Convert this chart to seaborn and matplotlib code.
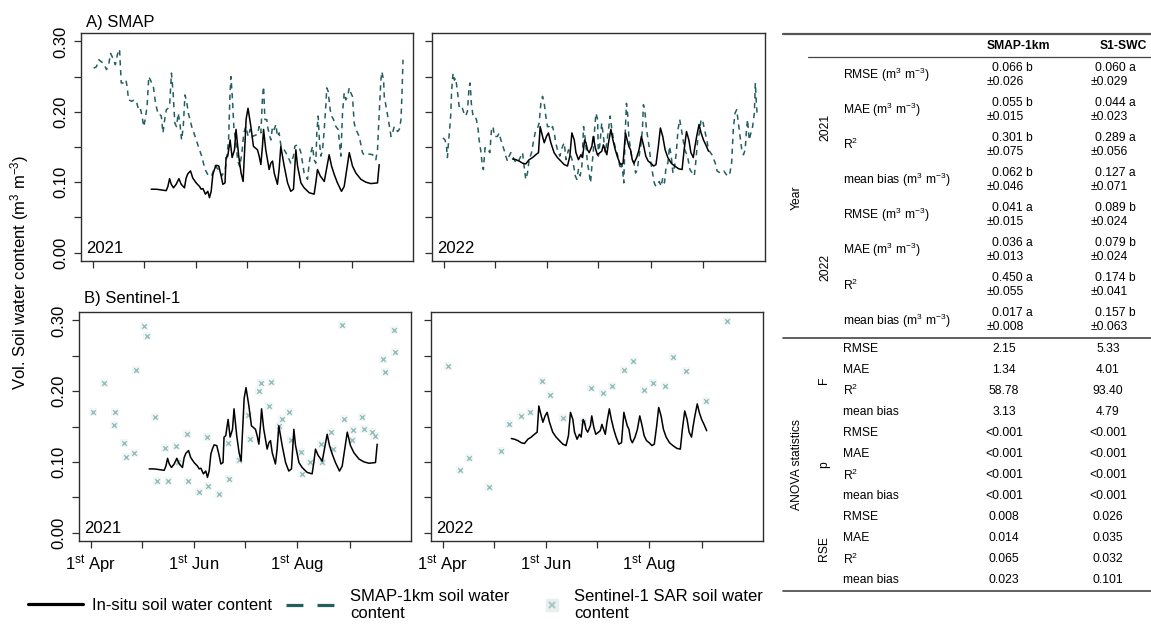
import matplotlib
matplotlib.use("Agg")
import matplotlib.pyplot as plt
import seaborn as sns
from matplotlib.lines import Line2D

# ---------------- data (day of year, vol. soil water content) ----------------
smap_2021_day = [91.4, 93.0, 94.5, 96.0, 97.3, 99.0, 100.4, 101.4, 102.8, 104.2, 105.4, 106.7,
                 107.7, 109.5, 110.5, 111.3, 112.0, 114.0, 115.4, 116.6, 118.0, 119.0, 120.0, 121.0,
                 122.0, 123.0, 124.0, 125.0, 126.7, 128.0, 129.6, 130.5, 131.4, 132.4, 133.4, 134.4,
                 135.4, 136.4, 137.4, 138.4, 139.4, 140.4, 141.4, 142.4, 143.4, 144.4, 145.4, 146.4,
                 147.4, 149.4, 151.4, 153.3, 155.3, 157.3, 159.3, 161.2, 163.2, 165.2, 167.2, 169.2,
                 170.2, 171.2, 172.0, 172.6, 173.4, 174.4, 175.4, 176.6, 177.8, 179.0, 180.2, 181.4,
                 182.8, 184.0, 185.4, 188.3, 189.3, 190.3, 191.3, 191.9, 192.7, 193.8, 194.6, 196.2,
                 197.2, 198.2, 199.2, 200.1, 201.1, 202.1, 203.1, 204.1, 205.1, 206.1, 207.1, 208.0,
                 209.6, 210.4, 211.6, 213.0, 214.0, 215.0, 215.9, 216.9, 217.9, 218.9, 219.9, 220.9,
                 221.8, 222.8, 223.4, 224.2, 225.0, 225.8, 226.8, 227.8, 228.7, 229.3, 230.1, 231.3,
                 232.1, 233.3, 234.7, 236.0, 237.6, 238.6, 239.6, 240.6, 241.6, 242.6, 243.5, 244.5,
                 245.5, 246.5, 247.5, 248.5, 250.4, 251.4, 252.4, 254.4, 256.4, 258.3, 259.3, 260.3,
                 261.3, 261.9, 262.9, 263.3, 264.3, 265.7, 267.3, 268.2, 269.2, 270.2, 271.2, 272.2,
                 273.2, 273.8, 274.4]
smap_2021_swc = [0.262, 0.264, 0.274, 0.271, 0.269, 0.260, 0.269, 0.283, 0.276, 0.267, 0.281, 0.289,
                 0.241, 0.241, 0.245, 0.234, 0.217, 0.215, 0.217, 0.215, 0.203, 0.205, 0.194, 0.179,
                 0.191, 0.208, 0.250, 0.245, 0.236, 0.212, 0.196, 0.196, 0.194, 0.170, 0.189, 0.203,
                 0.205, 0.212, 0.255, 0.227, 0.184, 0.179, 0.198, 0.184, 0.160, 0.179, 0.224, 0.215,
                 0.198, 0.179, 0.165, 0.151, 0.137, 0.118, 0.109, 0.109, 0.123, 0.118, 0.109, 0.118,
                 0.137, 0.160, 0.222, 0.250, 0.222, 0.175, 0.160, 0.130, 0.122, 0.140, 0.170, 0.179,
                 0.165, 0.175, 0.165, 0.168, 0.179, 0.170, 0.222, 0.236, 0.189, 0.189, 0.175, 0.160,
                 0.179, 0.175, 0.182, 0.165, 0.170, 0.153, 0.149, 0.146, 0.142, 0.137, 0.132, 0.127,
                 0.137, 0.151, 0.153, 0.149, 0.142, 0.127, 0.113, 0.109, 0.104, 0.127, 0.142, 0.151,
                 0.132, 0.127, 0.170, 0.194, 0.156, 0.137, 0.146, 0.175, 0.208, 0.234, 0.229, 0.203,
                 0.194, 0.189, 0.179, 0.175, 0.137, 0.198, 0.227, 0.217, 0.222, 0.234, 0.227, 0.222,
                 0.184, 0.175, 0.170, 0.165, 0.142, 0.139, 0.140, 0.140, 0.139, 0.132, 0.146, 0.198,
                 0.245, 0.257, 0.245, 0.222, 0.208, 0.189, 0.165, 0.170, 0.179, 0.175, 0.172, 0.175,
                 0.189, 0.227, 0.274]

smap_2022_day = [90.4, 91.6, 92.4, 93.0, 93.6, 94.3, 94.9, 95.5, 96.3, 97.1,
                 97.9, 98.9, 99.9, 100.8, 101.8, 102.8, 103.8, 104.8, 105.8, 106.4,
                 107.1, 108.1, 109.1, 110.1, 111.1, 111.7, 112.7, 113.6, 114.2, 115.2,
                 116.0, 117.0, 118.0, 119.0, 119.9, 120.7, 121.5, 122.5, 123.5, 124.5,
                 125.4, 126.4, 127.4, 128.4, 129.4, 130.4, 131.4, 132.9, 134.3, 136.3,
                 137.3, 138.2, 139.2, 140.2, 141.2, 142.6, 143.6, 144.7, 145.9, 147.1,
                 148.1, 149.1, 150.1, 151.0, 152.0, 153.0, 154.0, 155.0, 156.0, 156.9,
                 157.9, 159.3, 160.9, 161.9, 162.9, 164.4, 165.8, 167.2, 168.4, 169.3,
                 170.3, 171.3, 172.3, 173.3, 174.1, 174.7, 175.6, 176.6, 177.4, 178.2,
                 179.0, 179.8, 180.6, 181.6,
                 182.0, 183.0, 184.0, 185.0, 186.0, 187.0, 188.0, 189.0, 190.0, 191.0,
                 192.0, 193.0, 194.0, 195.0, 196.0, 197.0, 198.0, 198.6, 199.4, 200.0,
                 201.0, 202.0, 203.0, 204.0, 205.0, 206.0, 207.0, 208.0, 208.6, 209.4,
                 210.4, 211.4, 212.2, 213.0, 214.0, 215.0, 216.0, 217.0, 218.0, 219.0,
                 220.0, 221.0, 222.0, 223.0, 224.0, 225.0, 226.0, 227.0, 228.0, 229.0,
                 230.0, 231.0, 232.0, 233.0, 234.6, 236.0, 237.4, 238.6, 239.4, 240.6,
                 241.6, 242.6, 243.4, 244.6, 246.0, 247.0, 249.0, 251.0, 252.0, 254.0,
                 256.0, 258.0, 259.4, 260.6, 261.6, 262.6, 263.6, 264.6, 265.6, 266.6,
                 267.6, 268.6, 269.4, 270.0, 271.0, 272.0, 273.0, 274.0, 274.6, 275.2,
                 275.8]
smap_2022_swc = [0.163, 0.160, 0.151, 0.135, 0.156, 0.175, 0.194, 0.231, 0.255, 0.245,
                 0.248, 0.229, 0.208, 0.203, 0.205, 0.198, 0.194, 0.201, 0.236, 0.241,
                 0.212, 0.194, 0.194, 0.189, 0.175, 0.160, 0.144, 0.123, 0.118, 0.149,
                 0.146, 0.146, 0.142, 0.175, 0.179, 0.165, 0.165, 0.165, 0.170, 0.160,
                 0.153, 0.146, 0.137, 0.130, 0.137, 0.142, 0.137, 0.130, 0.127, 0.137,
                 0.142, 0.123, 0.104, 0.113, 0.132, 0.142, 0.156, 0.170, 0.175, 0.184,
                 0.212, 0.222, 0.212, 0.194, 0.179, 0.179, 0.175, 0.179, 0.170, 0.156,
                 0.146, 0.137, 0.151, 0.156, 0.132, 0.146, 0.137, 0.127, 0.109, 0.104,
                 0.118, 0.109, 0.123, 0.179, 0.165, 0.151, 0.127, 0.113, 0.099, 0.123,
                 0.142, 0.175, 0.198, 0.189,
                 0.137, 0.156, 0.184, 0.165, 0.142, 0.156, 0.175, 0.194, 0.175, 0.160,
                 0.149, 0.142, 0.132, 0.118, 0.125, 0.099, 0.179, 0.212, 0.194, 0.165,
                 0.146, 0.132, 0.127, 0.113, 0.118, 0.137, 0.151, 0.175, 0.210, 0.203,
                 0.175, 0.160, 0.146, 0.127, 0.113, 0.099, 0.094, 0.097, 0.101, 0.094,
                 0.106, 0.099, 0.123, 0.127, 0.151, 0.137, 0.113, 0.123, 0.142, 0.175,
                 0.189, 0.175, 0.160, 0.146, 0.137, 0.118, 0.113, 0.109, 0.127, 0.160,
                 0.170, 0.189, 0.189, 0.175, 0.160, 0.146, 0.139, 0.127, 0.116, 0.113,
                 0.116, 0.109, 0.110, 0.127, 0.175, 0.198, 0.203, 0.184, 0.165, 0.146,
                 0.139, 0.146, 0.175, 0.189, 0.160, 0.170, 0.179, 0.198, 0.241, 0.212,
                 0.193]

insitu_2021_day = [125.4, 128.4, 131.4, 134.3, 135.3, 136.3, 137.3, 138.6, 140.2, 141.8,
                   143.2, 145.1, 146.1, 147.1, 148.7, 150.0, 152.0, 154.0, 155.0, 156.0,
                   157.5, 158.9, 159.9, 160.9, 161.9, 162.8, 163.8, 165.4, 166.8, 167.8,
                   169.1, 169.7, 170.7, 172.1, 173.3, 174.7, 175.6, 177.2, 178.6, 179.8,
                   181.6, 182.7, 184.4, 185.9, 188.3, 189.3, 190.3, 191.3, 191.9, 193.2,
                   195.2, 196.2, 197.2, 198.2, 200.1, 201.1, 202.1, 204.1, 206.1, 208.0,
                   209.6, 211.0, 212.0, 214.0, 215.9, 218.9, 221.8, 222.8, 223.8, 225.4,
                   227.8, 230.7, 232.1, 233.7, 235.6, 238.0, 239.6, 242.6, 244.5, 246.5,
                   249.5, 252.4, 255.4, 259.3, 260.3]
insitu_2021_swc = [0.090, 0.090, 0.089, 0.088, 0.094, 0.105, 0.097, 0.092, 0.097, 0.105,
                   0.097, 0.092, 0.106, 0.112, 0.116, 0.106, 0.099, 0.094, 0.090, 0.091,
                   0.083, 0.087, 0.078, 0.087, 0.111, 0.118, 0.124, 0.123, 0.109, 0.097,
                   0.099, 0.135, 0.137, 0.160, 0.135, 0.146, 0.175, 0.137, 0.113, 0.101,
                   0.190, 0.205, 0.179, 0.151, 0.146, 0.137, 0.125, 0.153, 0.175, 0.146,
                   0.118, 0.127, 0.130, 0.113, 0.097, 0.118, 0.151, 0.123, 0.099, 0.087,
                   0.090, 0.146, 0.123, 0.099, 0.092, 0.085, 0.083, 0.099, 0.118, 0.109,
                   0.101, 0.139, 0.123, 0.111, 0.099, 0.087, 0.094, 0.142, 0.123, 0.113,
                   0.104, 0.100, 0.098, 0.099, 0.125]

insitu_2022_day = [131.4, 133.3, 135.3, 137.3, 139.2, 141.2, 143.2, 145.1, 146.7, 147.7,
                   149.1, 150.1, 151.4, 152.6, 154.0, 155.9, 157.9, 159.9, 161.9, 163.8,
                   165.2, 166.4, 167.8, 168.8, 170.3, 171.7, 172.7, 173.9, 174.7, 175.6,
                   176.6, 178.2, 179.0, 180.2, 181.4, 183.0, 184.0, 185.0, 186.0, 187.0,
                   188.0, 189.4, 190.6, 192.0, 193.4, 195.0, 196.6, 198.0, 199.0, 200.0,
                   201.0, 202.0, 203.0, 204.6, 206.0, 207.4, 208.6, 210.0, 211.4, 213.0,
                   214.6, 216.0, 217.4, 218.6, 220.0, 221.4, 223.0, 225.0, 227.0, 229.4,
                   231.4, 232.6, 234.0, 235.4, 236.6, 238.0, 239.0, 240.0, 241.4, 242.6,
                   244.0, 245.4, 247.0]
insitu_2022_swc = [0.133, 0.132, 0.130, 0.127, 0.126, 0.132, 0.135, 0.139, 0.142, 0.179,
                   0.165, 0.156, 0.165, 0.170, 0.156, 0.142, 0.135, 0.130, 0.125, 0.123,
                   0.137, 0.170, 0.160, 0.142, 0.132, 0.139, 0.135, 0.160, 0.156, 0.146,
                   0.142, 0.151, 0.165, 0.149, 0.139, 0.142, 0.144, 0.153, 0.146, 0.139,
                   0.156, 0.175, 0.160, 0.146, 0.135, 0.125, 0.127, 0.170, 0.160, 0.151,
                   0.146, 0.132, 0.127, 0.135, 0.146, 0.165, 0.153, 0.137, 0.130, 0.127,
                   0.123, 0.125, 0.151, 0.177, 0.165, 0.146, 0.135, 0.127, 0.123, 0.119,
                   0.118, 0.146, 0.172, 0.160, 0.142, 0.135, 0.151, 0.165, 0.182, 0.170,
                   0.160, 0.153, 0.144]

s1_2021_day = [92.4, 98.5, 104.4, 105.4, 110.7, 111.7, 116.7, 117.7, 122.6, 124.0,
               128.9, 130.1, 134.8, 136.4, 141.3, 142.3, 147.7, 148.3, 154.6, 159.5,
               160.5, 167.0, 172.1, 172.9, 178.5, 184.0, 184.8, 190.3, 191.3, 196.2,
               197.6, 202.1, 204.1, 208.4, 209.5, 215.0, 216.0, 220.7, 226.8, 227.8,
               233.2, 234.1, 239.5, 240.5, 245.6, 246.0, 251.3, 252.5, 257.4, 258.8,
               263.8, 264.8, 270.1, 271.1]
s1_2021_swc = [0.170, 0.212, 0.152, 0.171, 0.127, 0.107, 0.113, 0.230, 0.292, 0.278,
               0.164, 0.073, 0.119, 0.073, 0.123, 0.100, 0.140, 0.073, 0.058, 0.135,
               0.066, 0.055, 0.127, 0.076, 0.102, 0.166, 0.132, 0.200, 0.211, 0.179,
               0.213, 0.151, 0.161, 0.171, 0.131, 0.114, 0.083, 0.100, 0.125, 0.100,
               0.142, 0.118, 0.294, 0.161, 0.131, 0.145, 0.163, 0.146, 0.142, 0.136,
               0.246, 0.227, 0.287, 0.256]

s1_2022_day = [93.8, 100.8, 106.2, 118.0, 125.3, 130.2, 137.3, 142.6, 149.5, 154.4, 161.7, 173.7,
               178.6, 185.9, 190.8, 198.1, 203.3, 210.1, 215.1, 222.4, 227.3, 234.6, 246.6, 258.8]
s1_2022_swc = [0.235, 0.088, 0.106, 0.065, 0.116, 0.154, 0.165, 0.171, 0.214, 0.194, 0.162, 0.157,
               0.205, 0.197, 0.207, 0.230, 0.242, 0.202, 0.211, 0.207, 0.248, 0.228, 0.186, 0.299]

# axis ticks (1st of each month as day of year)
month_days = [91, 121, 152, 182, 213, 244]
month_labels = ['1$^{st}$ Apr', '', '1$^{st}$ Jun', '', '1$^{st}$ Aug', '']
y_ticks = [0.0, 0.05, 0.10, 0.15, 0.20, 0.25, 0.30]
y_labels = ['0.00', '', '0.10', '', '0.20', '', '0.30']

# table content
year_metrics = ['RMSE (m$^3$ m$^{-3}$)', 'MAE (m$^3$ m$^{-3}$)', 'R$^2$', 'mean bias (m$^3$ m$^{-3}$)']
smap_mean = ['0.066 b', '0.055 b', '0.301 b', '0.062 b', '0.041 a', '0.036 a', '0.450 a', '0.017 a']
smap_sd = ['±0.026', '±0.015', '±0.075', '±0.046', '±0.015', '±0.013', '±0.055', '±0.008']
s1_mean = ['0.060 a', '0.044 a', '0.289 a', '0.127 a', '0.089 b', '0.079 b', '0.174 b', '0.157 b']
s1_sd = ['±0.029', '±0.023', '±0.056', '±0.071', '±0.024', '±0.024', '±0.041', '±0.063']
anova_metrics = ['RMSE', 'MAE', 'R$^2$', 'mean bias']
anova_groups = ['F', 'p', 'RSE']
anova_smap = ['2.15', '1.34', '58.78', '3.13', '<0.001', '<0.001', '<0.001', '<0.001',
              '0.008', '0.014', '0.065', '0.023']
anova_s1 = ['5.33', '4.01', '93.40', '4.79', '<0.001', '<0.001', '<0.001', '<0.001',
            '0.026', '0.035', '0.032', '0.101']

# ---------------- style ----------------
sns.set_style("ticks")
plt.rcParams['font.family'] = ['Liberation Sans', 'DejaVu Sans']
plt.rcParams['mathtext.fontset'] = 'custom'
plt.rcParams['mathtext.rm'] = 'Liberation Sans'
plt.rcParams['mathtext.it'] = 'Liberation Sans:italic'
plt.rcParams['mathtext.bf'] = 'Liberation Sans:bold'
plt.rcParams['mathtext.default'] = 'regular'
plt.rcParams['text.color'] = 'black'

smap_color = '#245f5f'
s1_color = '#93bfbb'
halo_color = '#f3f6f6'
frame_color = '#2e2e2e'

W, H = 1151, 630
fig = plt.figure(figsize=(W / 100, H / 100), dpi=100)


def box(x0, y0, x1, y1):
    # pixel box -> figure fraction
    return [x0 / W, 1 - y1 / H, (x1 - x0) / W, (y1 - y0) / H]


def style_panel(ax, year, left_labels, bottom_labels):
    ax.set_xlim(83.9, 280.3)
    ax.set_ylim(-0.012, 0.312)
    ax.set_xticks(month_days)
    ax.set_xticklabels(month_labels if bottom_labels else [''] * len(month_days))
    ax.set_yticks(y_ticks)
    ax.set_yticklabels(y_labels if left_labels else [''] * len(y_ticks))
    for lab in ax.get_yticklabels():
        lab.set_rotation(90)
        lab.set_va('center')
    ax.tick_params(direction='out', length=5, width=0.9, color=frame_color,
                   labelcolor='black', labelsize=12, pad=4)
    for s in ax.spines.values():
        s.set_visible(True)
        s.set_color(frame_color)
        s.set_linewidth(1.0)
    ax.set_xlabel('')
    ax.set_ylabel('')
    ax.text(0.015, 0.02, year, transform=ax.transAxes, fontsize=12, ha='left', va='bottom')


def draw_s1(ax, days, swc):
    # faint square glow behind each small cross, as in the source figure
    sns.scatterplot(x=days, y=swc, ax=ax, marker='s', s=40, color=halo_color,
                    linewidth=0, zorder=2)
    sns.scatterplot(x=days, y=swc, ax=ax, marker='x', s=11, color=s1_color,
                    linewidth=1.0, zorder=3)


ax_a1 = fig.add_axes(box(81, 33, 413, 261))
ax_a2 = fig.add_axes(box(432, 33, 765, 261))
ax_b1 = fig.add_axes(box(79, 312, 411, 541))
ax_b2 = fig.add_axes(box(431, 312, 763, 541))

dash = (0, (3.5, 3))

# A) SMAP
sns.lineplot(x=smap_2021_day, y=smap_2021_swc, ax=ax_a1, color=smap_color, linewidth=1.1,
             linestyle=dash, errorbar=None, zorder=3)
sns.lineplot(x=insitu_2021_day, y=insitu_2021_swc, ax=ax_a1, color='black', linewidth=1.1,
             errorbar=None, zorder=4)
sns.lineplot(x=smap_2022_day, y=smap_2022_swc, ax=ax_a2, color=smap_color, linewidth=1.1,
             linestyle=dash, errorbar=None, zorder=3)
sns.lineplot(x=insitu_2022_day, y=insitu_2022_swc, ax=ax_a2, color='black', linewidth=1.1,
             errorbar=None, zorder=4)

# B) Sentinel-1
draw_s1(ax_b1, s1_2021_day, s1_2021_swc)
sns.lineplot(x=insitu_2021_day, y=insitu_2021_swc, ax=ax_b1, color='black', linewidth=1.1,
             errorbar=None, zorder=4)
draw_s1(ax_b2, s1_2022_day, s1_2022_swc)
sns.lineplot(x=insitu_2022_day, y=insitu_2022_swc, ax=ax_b2, color='black', linewidth=1.1,
             errorbar=None, zorder=4)

style_panel(ax_a1, '2021', True, False)
style_panel(ax_a2, '2022', False, False)
style_panel(ax_b1, '2021', True, True)
style_panel(ax_b2, '2022', False, True)

ax_a1.text(0.015, 1.048, 'A) SMAP', transform=ax_a1.transAxes, fontsize=12, va='center')
ax_b1.text(0.015, 1.061, 'B) Sentinel-1', transform=ax_b1.transAxes, fontsize=12, va='center')

fig.text(20 / W, 1 - 272 / H, 'Vol. Soil water content (m$^3$ m$^{-3}$)', rotation=90,
         ha='center', va='center', fontsize=12)

# ---------------- legend ----------------
fs_px = 12 * 100 / 72
leg_y = 1 - 605 / H
h_insitu = Line2D([], [], color='black', lw=2.3)
h_smap = Line2D([], [], color=smap_color, lw=2.3, linestyle=(0, (5.3, 4.4)))
h_s1 = (Line2D([], [], marker='s', ms=9, color='#e9efee', lw=0),
        Line2D([], [], marker='x', ms=5, mew=1.4, color='#a3c7c3', lw=0))
legend_specs = [
    (h_insitu, 'In-situ soil water content', 28, 55, 9),
    (h_smap, 'SMAP-1km soil water\ncontent', 286, 56, 8),
    (h_s1, 'Sentinel-1 SAR soil water\ncontent', 535, 33, 6),
]
for handle, label, x0, hlen, hpad in legend_specs:
    fig.legend([handle], [label], loc='center left', bbox_to_anchor=(x0 / W, leg_y),
               frameon=False, fontsize=12, handlelength=hlen / fs_px,
               handletextpad=hpad / fs_px, borderpad=0, borderaxespad=0,
               labelspacing=0)

# ---------------- table ----------------
tab = fig.add_axes([0, 0, 1, 1])
tab.set_xlim(0, W)
tab.set_ylim(H, 0)
tab.axis('off')
tfs = 8.7
line_col = '#444444'

tab.plot([783, 1151], [34, 34], color='#555555', lw=1.6)
tab.plot([808, 1151], [57, 57], color=line_col, lw=0.9)
tab.plot([783, 1151], [338, 338], color=line_col, lw=1.2)
tab.plot([783, 1151], [591, 591], color=line_col, lw=1.2)

tab.text(1018, 46, 'SMAP-1km', fontsize=tfs, fontweight='bold', ha='center', va='center')
tab.text(1123, 46, 'S1-SWC', fontsize=tfs, fontweight='bold', ha='center', va='center')

row_h = (338 - 57) / 8
for i in range(8):
    yc = 57 + row_h * (i + 0.5)
    tab.text(843, yc, year_metrics[i % 4], fontsize=tfs, ha='left', va='center')
    tab.text(992, yc - 7, smap_mean[i], fontsize=tfs, ha='left', va='center')
    tab.text(987, yc + 7, smap_sd[i], fontsize=tfs, ha='left', va='center')
    tab.text(1095, yc - 7, s1_mean[i], fontsize=tfs, ha='left', va='center')
    tab.text(1091, yc + 7, s1_sd[i], fontsize=tfs, ha='left', va='center')

tab.text(797, (57 + 338) / 2, 'Year', fontsize=tfs, rotation=90, ha='center', va='center')
tab.text(825, 57 + row_h * 2, '2021', fontsize=tfs, rotation=90, ha='center', va='center')
tab.text(825, 57 + row_h * 6, '2022', fontsize=tfs, rotation=90, ha='center', va='center')

arow_h = (591 - 338) / 12
for i in range(12):
    yc = 338 + arow_h * (i + 0.5)
    tab.text(843, yc, anova_metrics[i % 4], fontsize=tfs, ha='left', va='center')
    tab.text(1004, yc, anova_smap[i], fontsize=tfs, ha='center', va='center')
    tab.text(1108, yc, anova_s1[i], fontsize=tfs, ha='center', va='center')
for g, name in enumerate(anova_groups):
    tab.text(824, 338 + arow_h * (4 * g + 2), name, fontsize=tfs, rotation=90,
             ha='center', va='center')
tab.text(797, (338 + 591) / 2, 'ANOVA statistics', fontsize=tfs, rotation=90,
         ha='center', va='center')

fig.savefig('out.png', dpi=100)
